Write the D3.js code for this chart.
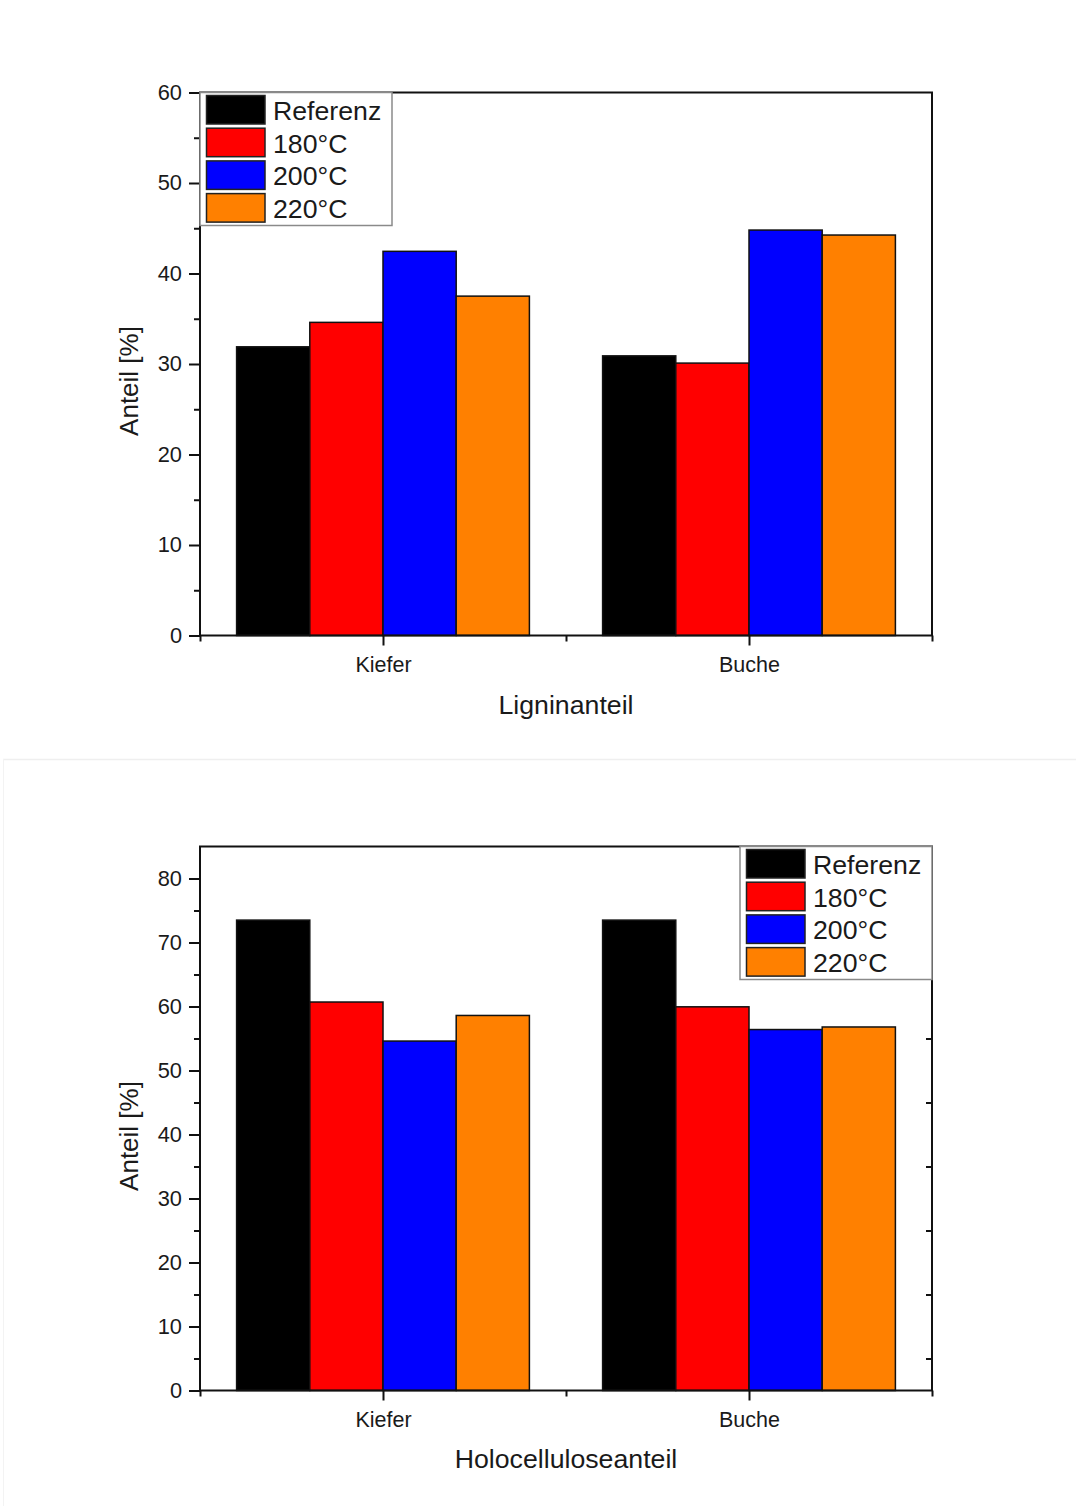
<!DOCTYPE html>
<html>
<head>
<meta charset="utf-8">
<script src="https://cdn.jsdelivr.net/npm/d3@7"></script>
<style>
  html, body { margin: 0; padding: 0; background: #fff; }
  svg { display: block; }
  text { font-family: Arial, "Liberation Sans", sans-serif; fill: #1a1a1a; }
</style>
</head>
<body>
<script>
// Wood species on the x axis
const categories = ["Kiefer", "Buche"];
// Treatment series shown as grouped bars
const seriesNames = ["Referenz", "180°C", "200°C", "220°C"];
const seriesColors = ["#000000", "#ff0000", "#0000ff", "#ff8000"];

// Lignin share [%] per species and treatment
const ligninKiefer = [31.9, 34.6, 42.45, 37.5];
const ligninBuche = [30.9, 30.1, 44.8, 44.25];
// Holocellulose share [%]
const holoKiefer = [73.5, 60.7, 54.6, 58.6];
const holoBuche = [73.5, 59.95, 56.4, 56.8];

const ligninTicks = [0, 10, 20, 30, 40, 50, 60];
const holoTicks = [0, 10, 20, 30, 40, 50, 60, 70, 80];

const W = 1076, H = 1506;
const svg = d3.select("body").append("svg").attr("width", W).attr("height", H);

// faint border of the lower panel
svg.append("line").attr("x1", 3).attr("x2", W).attr("y1", 759.5).attr("y2", 759.5)
  .attr("stroke", "#efefef").attr("stroke-width", 1.5);
svg.append("line").attr("x1", 3.5).attr("x2", 3.5).attr("y1", 759).attr("y2", H)
  .attr("stroke", "#f3f3f3").attr("stroke-width", 1);

function drawPanel(cfg) {
  const g = svg.append("g");
  const x = d3.scaleLinear().domain([0.5, 2.5]).range([200, 932]);
  const y = d3.scaleLinear().domain([0, cfg.yMax]).range([cfg.bottom, cfg.top]);
  const barW = x(0.7) - x(0.5);

  // bars
  cfg.values.forEach((vals, ci) => {
    vals.forEach((v, si) => {
      g.append("rect")
        .attr("x", x(ci + 1 - 0.4 + si * 0.2))
        .attr("y", y(v))
        .attr("width", barW)
        .attr("height", y(0) - y(v))
        .attr("fill", seriesColors[si])
        .attr("stroke", "#111")
        .attr("stroke-width", 1.5);
    });
  });

  // frame
  g.append("rect")
    .attr("x", 200).attr("y", y(cfg.yMax))
    .attr("width", 732).attr("height", y(0) - y(cfg.yMax))
    .attr("fill", "none").attr("stroke", "#111").attr("stroke-width", 2);

  const minorTicks = d3.range(5, cfg.yMax, 10);

  // left axis: major ticks with labels
  const left = g.append("g").attr("transform", "translate(200,0)")
    .call(d3.axisLeft(y).tickValues(cfg.ticks).tickSize(11).tickPadding(7).tickFormat(d3.format("d")));
  left.select(".domain").remove();
  left.selectAll("line").attr("stroke", "#111").attr("stroke-width", 2);
  left.selectAll("text").attr("font-size", 21.8).attr("fill", "#1a1a1a")
    .style("font-family", 'Arial, "Liberation Sans", sans-serif');
  // left axis: minor ticks
  const leftMinor = g.append("g").attr("transform", "translate(200,0)")
    .call(d3.axisLeft(y).tickValues(minorTicks).tickSize(6).tickFormat(""));
  leftMinor.select(".domain").remove();
  leftMinor.selectAll("line").attr("stroke", "#111").attr("stroke-width", 2);

  // right axis: inward minor ticks
  if (cfg.rightTicks) {
    const right = g.append("g").attr("transform", "translate(932,0)")
      .call(d3.axisRight(y).tickValues(minorTicks).tickSize(-6).tickFormat(""));
    right.select(".domain").remove();
    right.selectAll("line").attr("stroke", "#111").attr("stroke-width", 2);
  }

  // bottom axis: category ticks with labels
  const bottom = g.append("g").attr("transform", `translate(0,${cfg.bottom})`)
    .call(d3.axisBottom(x).tickValues([1, 2]).tickSize(10).tickPadding(11)
      .tickFormat(d => categories[d - 1]));
  bottom.select(".domain").remove();
  bottom.selectAll("line").attr("stroke", "#111").attr("stroke-width", 2);
  bottom.selectAll("text").attr("font-size", 21.5).attr("fill", "#1a1a1a")
    .style("font-family", 'Arial, "Liberation Sans", sans-serif');
  const bottomMinor = g.append("g").attr("transform", `translate(0,${cfg.bottom})`)
    .call(d3.axisBottom(x).tickValues([0.5, 1.5, 2.5]).tickSize(6).tickFormat(""));
  bottomMinor.select(".domain").remove();
  bottomMinor.selectAll("line").attr("stroke", "#111").attr("stroke-width", 2);

  // axis titles
  g.append("text")
    .attr("transform", `translate(138,${cfg.yTitleY}) rotate(-90)`)
    .attr("text-anchor", "middle")
    .attr("font-size", 26)
    .text("Anteil [%]");
  g.append("text")
    .attr("x", 566).attr("y", cfg.xTitleY)
    .attr("text-anchor", "middle")
    .attr("font-size", 26.7)
    .text(cfg.title);

  // legend
  const lg = g.append("g").attr("transform", `translate(${cfg.legendX},${cfg.legendY})`);
  lg.append("rect").attr("x", 0).attr("y", 0).attr("width", 192).attr("height", 133)
    .attr("fill", "#fff").attr("stroke", "#8a8a8a").attr("stroke-width", 1.5);
  seriesNames.forEach((name, i) => {
    lg.append("rect")
      .attr("x", 6.5).attr("y", 3 + i * 32.7)
      .attr("width", 58.5).attr("height", 28.5)
      .attr("fill", seriesColors[i]).attr("stroke", "#222").attr("stroke-width", 1.5);
    lg.append("text")
      .attr("x", 73).attr("y", 3 + i * 32.7 + 24.5)
      .attr("font-size", 26.7)
      .text(name);
  });
}

drawPanel({
  values: [ligninKiefer, ligninBuche],
  yMax: 60, ticks: ligninTicks,
  top: 92.5, bottom: 635.5,
  title: "Ligninanteil", xTitleY: 714, yTitleY: 381,
  legendX: 200, legendY: 92.5, rightTicks: false
});

drawPanel({
  values: [holoKiefer, holoBuche],
  yMax: 85, ticks: holoTicks,
  top: 846.5, bottom: 1390.5,
  title: "Holocelluloseanteil", xTitleY: 1468, yTitleY: 1136,
  legendX: 740, legendY: 846.5, rightTicks: true
});
</script>
</body>
</html>
